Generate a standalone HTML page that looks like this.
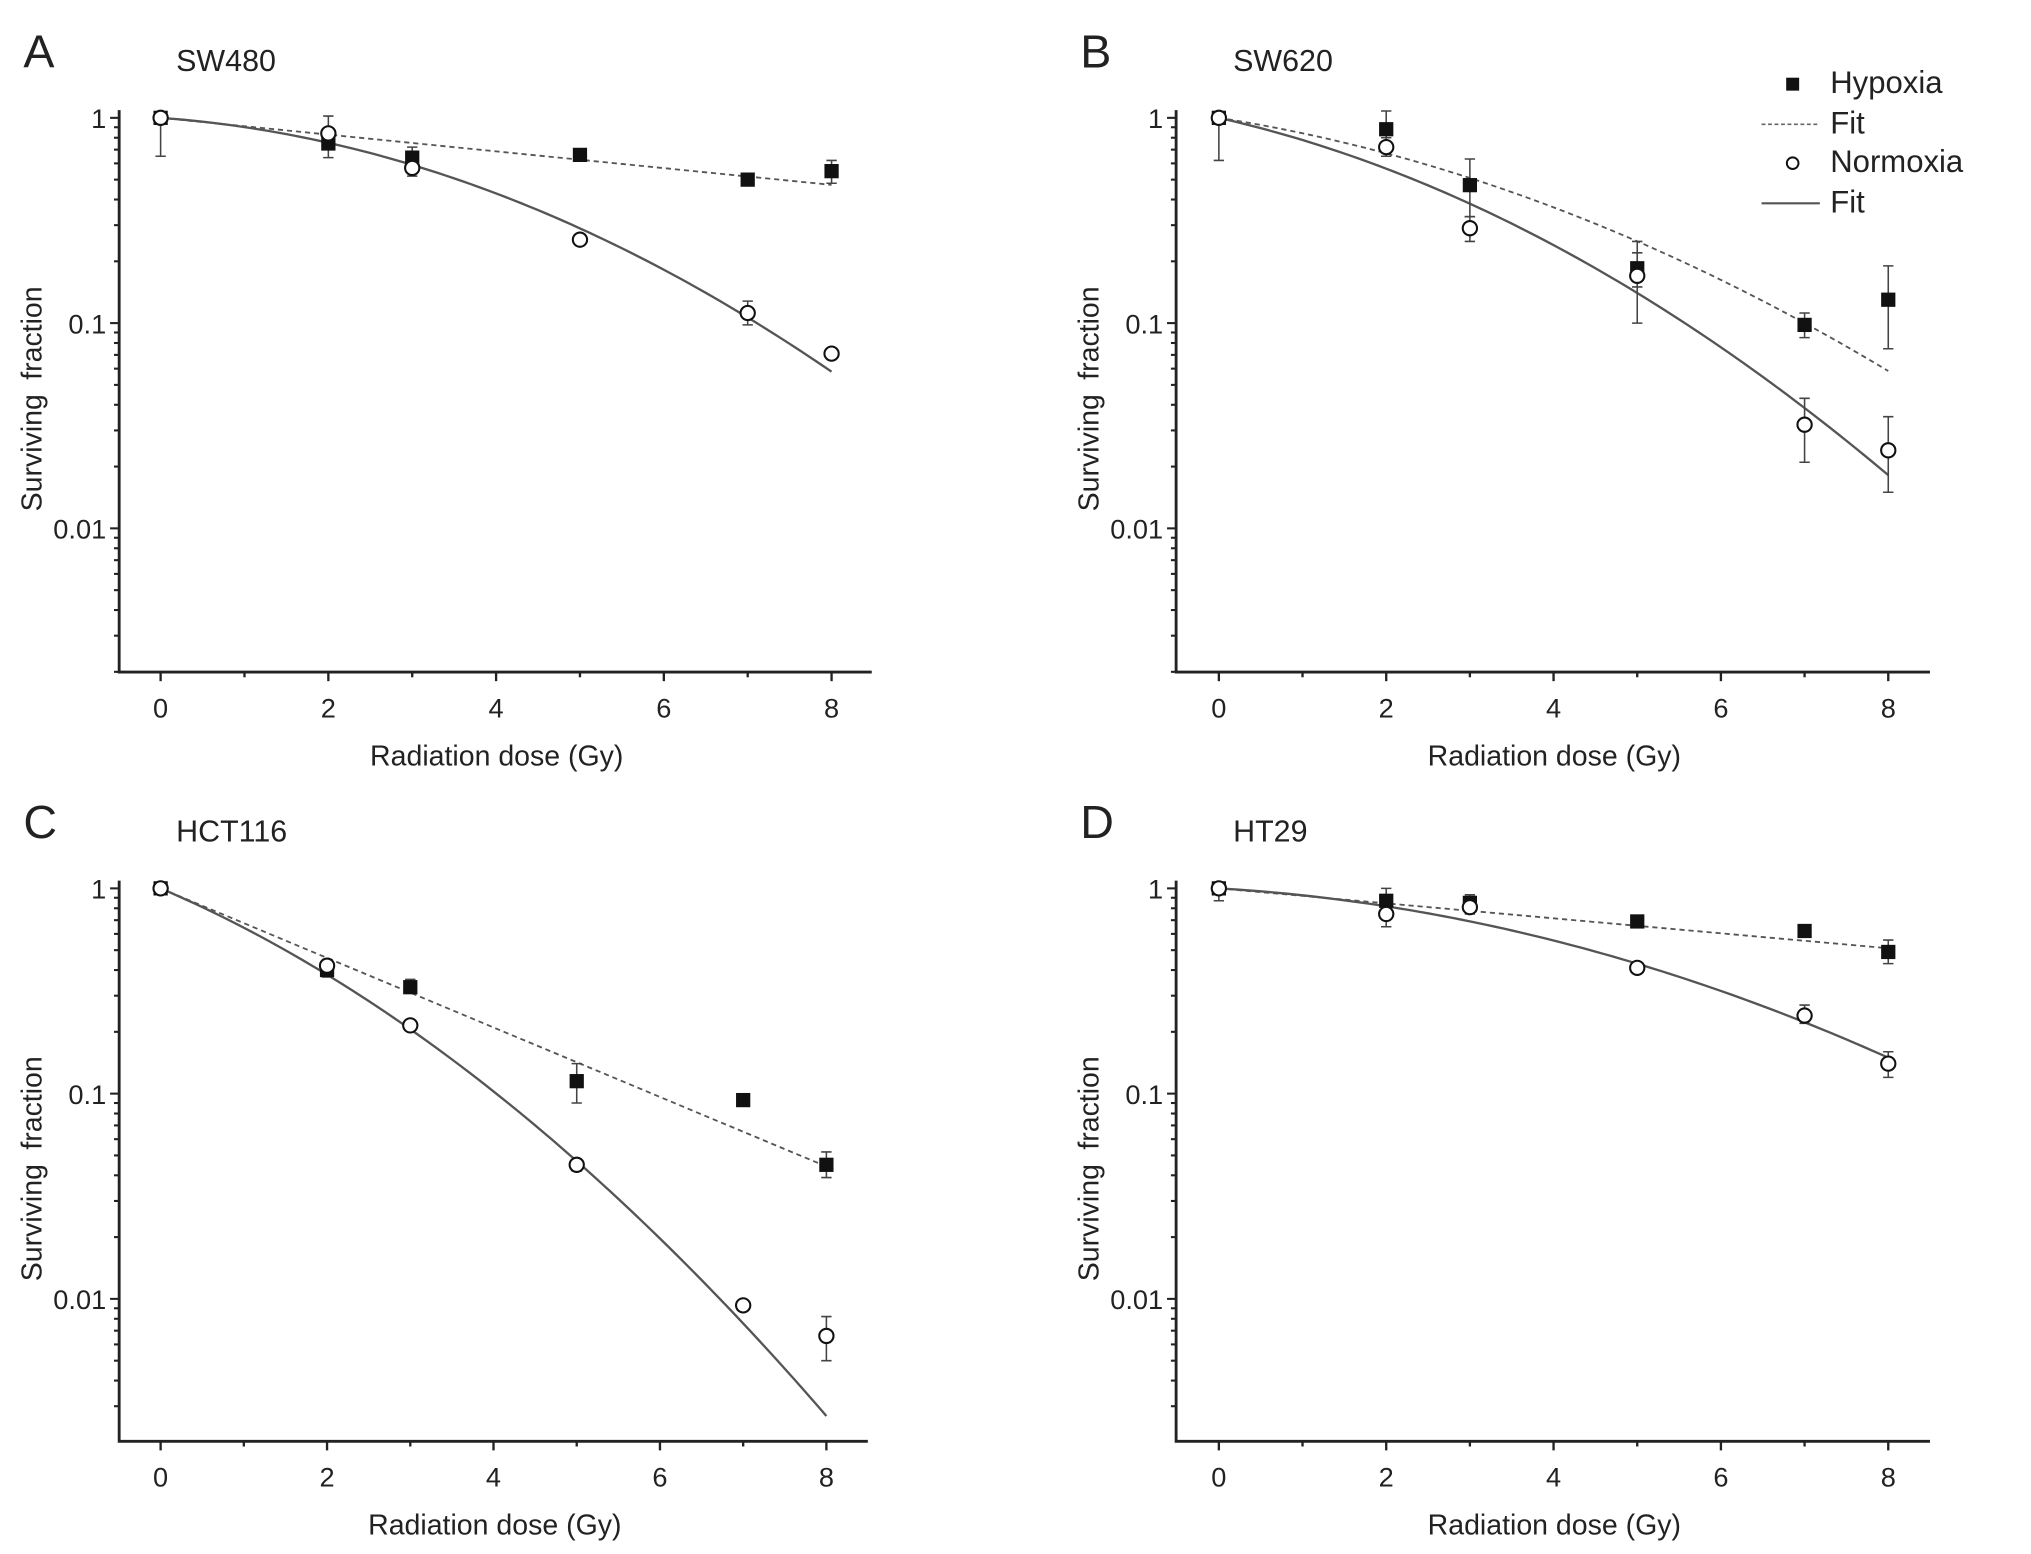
<!DOCTYPE html>
<html><head><meta charset="utf-8"><style>
html,body{margin:0;padding:0;background:#fff}
svg{display:block}
text{font-family:"Liberation Sans",sans-serif;fill:#222}
</style></head><body>
<svg id="fig" width="2031" height="1554" viewBox="0 0 1568 1200" preserveAspectRatio="none" xmlns="http://www.w3.org/2000/svg"></svg>
<script>
// ---- data (doses in Gy, values = surviving fraction) ----
const doses = [0,2,3,5,7,8];
const xTickLabels = ["0","2","4","6","8"];
const yTickLabels = ["1","0.1","0.01"];
const panelLetters = ["A","B","C","D"];
const cellLines = ["SW480","SW620","HCT116","HT29"];

const hypA = [1,0.75,0.64,0.66,0.50,0.55];
const hypAlo = [1,0.64,0.58,0.62,0.47,0.48];
const hypAhi = [1,0.86,0.72,0.70,0.53,0.62];
const norA = [1,0.84,0.57,0.255,0.112,0.071];
const norAlo = [0.65,0.70,0.52,0.245,0.098,0.068];
const norAhi = [1,1.02,0.62,0.265,0.128,0.074];
const fitHypA = [0.094,0];
const fitNorA = [0.068,0.036];

const hypB = [1,0.88,0.47,0.185,0.098,0.13];
const hypBlo = [1,0.75,0.33,0.15,0.085,0.075];
const hypBhi = [1,1.08,0.63,0.25,0.112,0.19];
const norB = [1,0.72,0.29,0.17,0.032,0.024];
const norBlo = [0.62,0.65,0.25,0.10,0.021,0.015];
const norBhi = [1,0.80,0.33,0.22,0.043,0.035];
const fitHypB = [0.147,0.026];
const fitNorB = [0.213,0.036];

const hypC = [1,0.40,0.33,0.115,0.093,0.045];
const hypClo = [1,0.37,0.31,0.09,0.088,0.039];
const hypChi = [1,0.43,0.36,0.14,0.099,0.052];
const norC = [1,0.42,0.215,0.045,0.0093,0.0066];
const norClo = [0.97,0.40,0.205,0.042,0.0089,0.005];
const norChi = [1.03,0.45,0.225,0.048,0.0097,0.0082];
const fitHypC = [0.39,0];
const fitNorC = [0.399,0.0426];

const hypD = [1,0.87,0.85,0.69,0.62,0.49];
const hypDlo = [1,0.80,0.78,0.66,0.59,0.43];
const hypDhi = [1,1.0,0.93,0.72,0.65,0.56];
const norD = [1,0.75,0.81,0.41,0.24,0.14];
const norDlo = [0.87,0.65,0.75,0.39,0.22,0.12];
const norDhi = [1,0.85,0.88,0.43,0.27,0.16];
const fitHypD = [0.084,0];
const fitNorD = [0.055,0.0228];

const legendLabels = ["Hypoxia","Fit","Normoxia","Fit"];

const NS = "http://www.w3.org/2000/svg";
const svg = document.getElementById('fig');
function mk(tag, attrs, parent){
  const e = document.createElementNS(NS, tag);
  for (const k in attrs) e.setAttribute(k, attrs[k]);
  (parent||svg).appendChild(e); return e;
}

const panels = [
  {ax:92, ay:519, x0:124, xs:64.75, top:85, right:673, y1:91, sets:[hypA,hypAlo,hypAhi,norA,norAlo,norAhi,fitHypA,fitNorA]},
  {ax:908, ay:519, x0:941, xs:64.6, top:85, right:1490, y1:91, sets:[hypB,hypBlo,hypBhi,norB,norBlo,norBhi,fitHypB,fitNorB]},
  {ax:92, ay:1113, x0:124, xs:64.25, top:680, right:670, y1:686, sets:[hypC,hypClo,hypChi,norC,norClo,norChi,fitHypC,fitNorC]},
  {ax:908, ay:1113, x0:941, xs:64.6, top:680, right:1490, y1:686, sets:[hypD,hypDlo,hypDhi,norD,norDlo,norDhi,fitHypD,fitNorD]}
];
const DEC = 158.5;

panels.forEach((p, i) => {
  const g = mk('g', {});
  
  
  const X = d => p.x0 + d * p.xs;
  const Y = v => p.y1 - Math.log10(v) * DEC;

  const letter = mk('text', {x: p.ax - 74, y: p.top - 33, 'font-size': 36}, g);
  letter.textContent = panelLetters[i];
  
  
  const title = mk('text', {x: p.ax + 44, y: p.top - 30, 'font-size': 23.5}, g);
  title.textContent = cellLines[i];
  
  

  const axes = mk('path', {d:`M${p.ax} ${p.top} V${p.ay} H${p.right}`, fill:'none', stroke:'#222', 'stroke-width':2.2}, g);
  
  
  for (let d = 0; d <= 8; d++) {
    const major = d % 2 === 0;
    mk('line', {x1:X(d), x2:X(d), y1:p.ay, y2:p.ay + (major ? 7 : 4), stroke:'#222', 'stroke-width':1.8}, g);
  }
  xTickLabels.forEach((t, k) => {
    const tl = mk('text', {x: X(k*2), y: p.ay + 35, 'font-size': 21, 'text-anchor':'middle'}, g);
    tl.textContent = t;
    
    
  });
  for (let e = 0; e >= -3; e--) {
    for (let m = 1; m <= 9; m++) {
      const v = m * Math.pow(10, e);
      const y = Y(v);
      if (y > p.ay || y < p.top) continue;
      mk('line', {x1:p.ax, x2:p.ax - (m===1 ? 7 : 4), y1:y, y2:y, stroke:'#222', 'stroke-width':1.6}, g);
    }
  }
  yTickLabels.forEach((t, k) => {
    const tl = mk('text', {x: p.ax - 10, y: Y(Math.pow(10, -k)) + 8, 'font-size': 21, 'text-anchor':'end'}, g);
    tl.textContent = t;
    
    
  });
  const xt = mk('text', {x:(p.ax + p.right)/2 + 1, y:p.ay + 72, 'font-size': 22, 'text-anchor':'middle'}, g);
  xt.textContent = 'Radiation dose (Gy)';
  
  
  const yc = (p.top + p.ay)/2 + 6;
  const yt = mk('text', {x:0, y:0, 'font-size': 22, 'text-anchor':'middle', 'word-spacing':'5', transform:`translate(${p.ax - 60},${yc}) rotate(-90)`}, g);
  yt.textContent = 'Surviving fraction';
  
  

  const [hyp, hlo, hhi, nor, nlo, nhi, fh, fn] = p.sets;
  function fitPath(par, dash, name) {
    let d = '';
    for (let k = 0; k <= 80; k++) {
      const D = k / 10;
      const s = Math.exp(-par[0]*D - par[1]*D*D);
      d += (k ? 'L' : 'M') + X(D).toFixed(2) + ' ' + Y(s).toFixed(2);
    }
    const pa = mk('path', {d, fill:'none', stroke:'#555', 'stroke-width': dash ? 1.4 : 1.8, 'stroke-dasharray': dash ? '4 3' : 'none'}, g);
    
    
  }
  fitPath(fh, true, 'hypoxia-fit-line');
  fitPath(fn, false, 'normoxia-fit-line');

  function errs(lo, hi, name) {
    doses.forEach((d, k) => {
      const x = X(d), a = Y(lo[k]), b = Y(hi[k]);
      if (Math.abs(a - b) < 2) return;
      const eb = mk('path', {d:`M${x} ${a} V${b} M${x-4} ${a} H${x+4} M${x-4} ${b} H${x+4}`, stroke:'#444', 'stroke-width':1.2, fill:'none'}, g);
      
      
    });
  }
  errs(hlo, hhi, 'hypoxia-error-bar');
  errs(nlo, nhi, 'normoxia-error-bar');
  hyp.forEach((v, k) => {
    const r = mk('rect', {x:X(doses[k]) - 5.5, y:Y(v) - 5.5, width:11, height:11, fill:'#111'}, g);
    
    
  });
  nor.forEach((v, k) => {
    const c = mk('circle', {cx:X(doses[k]), cy:Y(v), r:5.5, fill:'#fff', stroke:'#111', 'stroke-width':1.6}, g);
    
    
  });
});

const lg = mk('g', {});


const ly = [64, 95, 125, 156];
legendLabels.forEach((t, k) => {
  const tx = mk('text', {x:1413, y:ly[k] + 8, 'font-size': 24}, lg);
  tx.textContent = t;
  
  
});
mk('rect', {x:1379, y:ly[0] - 4, width:10, height:10, fill:'#111'}, lg);
mk('line', {x1:1360, x2:1405, y1:ly[1]+1, y2:ly[1]+1, stroke:'#666', 'stroke-width':1.3, 'stroke-dasharray':'3 2'}, lg);
mk('circle', {cx:1384, cy:ly[2]+1, r:4.5, fill:'#fff', stroke:'#111', 'stroke-width':1.5}, lg);
mk('line', {x1:1360, x2:1405, y1:ly[3]+1, y2:ly[3]+1, stroke:'#555', 'stroke-width':1.6}, lg);
</script>
</body></html>
